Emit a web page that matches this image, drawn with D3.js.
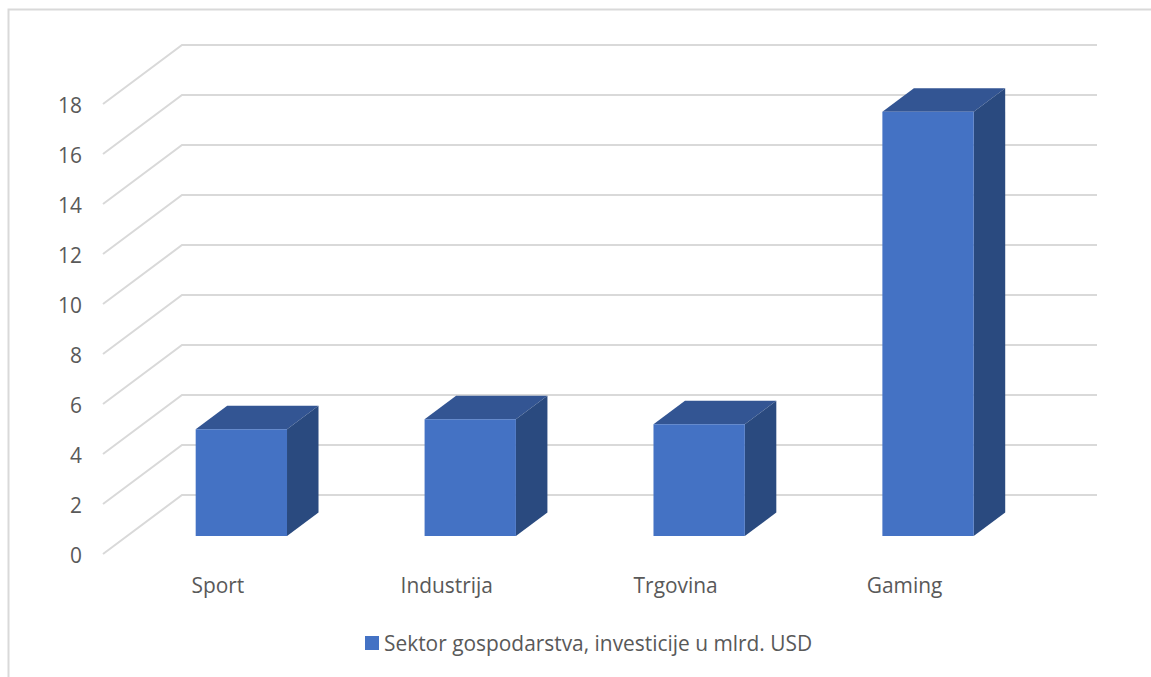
<!DOCTYPE html>
<html>
<head>
<meta charset="utf-8">
<script src="https://cdn.jsdelivr.net/npm/d3@7"></script>
<style>
  html, body { margin: 0; padding: 0; background: #fff; overflow: hidden; }
  text { font-family: "Open Sans", "Noto Sans", sans-serif; fill: #595959; }
</style>
</head>
<body>
<div id="chart"></div>
<script>
const categories = ['Sport', 'Industrija', 'Trgovina', 'Gaming']
const investments = [4.27, 4.67, 4.47, 16.97]
const yTicks = [0, 2, 4, 6, 8, 10, 12, 14, 16, 18]
const seriesName = 'Sektor gospodarstva, investicije u mlrd. USD'

const WIDTH = 1151
const HEIGHT = 677
const FONT_SIZE = '20.9px'
// offsets of the fake 3D box
const WALL = { DX: -79, DY: 59 }
const BAR_FRONT_DY = 41
const BAR_DEPTH = { DX: 31.5, DY: -23.5 }

const svg = d3.select('#chart').append('svg')
    .attr('width', WIDTH)
    .attr('height', HEIGHT)
    .style('display', 'block')

// chart frame, cut by the right and bottom of the picture
svg.append('path')
    .attr('d', `M8.5,${HEIGHT} V9.5 H${WIDTH}`)
    .attr('fill', 'none')
    .attr('stroke', '#d9d9d9')
    .attr('stroke-width', 2)

const y = d3.scaleLinear().domain([0, 18]).range([495, 45])
const x = d3.scaleBand()
    .domain(categories)
    .range([126.9, 1042.5])
    .paddingInner(0.601)
    .paddingOuter(0.3005)

const GRID_LEFT = 182
const GRID_RIGHT = 1097

// grid lines on the back wall + side wall
svg.append('g').selectAll('path')
    .data(yTicks)
    .enter().append('path')
    .attr('d', d => `M${GRID_LEFT + WALL.DX},${y(d) + WALL.DY} L${GRID_LEFT},${y(d)} H${GRID_RIGHT}`)
    .attr('fill', 'none')
    .attr('stroke', '#d9d9d9')
    .attr('stroke-width', 2)

// Y axis
const yAxis = svg.append('g')
    .attr('transform', `translate(${GRID_LEFT + WALL.DX - 12}, ${WALL.DY + 2})`)
    .call(d3.axisLeft(y).tickValues(yTicks).tickSize(0).tickPadding(9))
yAxis.select('.domain').remove()
yAxis.selectAll('text')
    .attr('font-size', FONT_SIZE)
    .style('font-family', '"Open Sans", "Noto Sans", sans-serif')

// X axis
const xAxis = svg.append('g')
    .attr('transform', `translate(-23.5, ${y(0) + BAR_FRONT_DY + 42})`)
    .call(d3.axisBottom(x).tickSize(0).tickPadding(0))
xAxis.select('.domain').remove()
xAxis.selectAll('text')
    .attr('font-size', FONT_SIZE)
    .style('font-family', '"Open Sans", "Noto Sans", sans-serif')

// Bars
const bars = svg.selectAll('.bar')
    .data(categories.map((c, i) => ({ category: c, value: investments[i] })))
    .enter().append('g')
    .attr('class', 'bar')

const barBox = d => {
    const x0 = x(d.category)
    const x1 = x0 + x.bandwidth()
    const base = y(0) + BAR_FRONT_DY
    const top = y(d.value) + BAR_FRONT_DY
    return { x0, x1, base, top }
}

bars.append('path')
    .attr('fill', '#335593')
    .attr('d', d => {
        const b = barBox(d)
        return `M${b.x0},${b.top} l${BAR_DEPTH.DX},${BAR_DEPTH.DY} H${b.x1 + BAR_DEPTH.DX} L${b.x1},${b.top} Z`
    })

bars.append('path')
    .attr('fill', '#2a4a7f')
    .attr('d', d => {
        const b = barBox(d)
        return `M${b.x1},${b.top} l${BAR_DEPTH.DX},${BAR_DEPTH.DY} V${b.base + BAR_DEPTH.DY} L${b.x1},${b.base} Z`
    })

bars.append('rect')
    .attr('fill', '#4472c4')
    .attr('x', d => barBox(d).x0)
    .attr('y', d => barBox(d).top)
    .attr('width', x.bandwidth())
    .attr('height', d => barBox(d).base - barBox(d).top)

// Legend
const legend = svg.append('g').attr('transform', 'translate(365, 636)')
legend.append('rect')
    .attr('width', 14)
    .attr('height', 14)
    .attr('fill', '#4472c4')
legend.append('text')
    .attr('x', 19)
    .attr('y', 15)
    .attr('font-size', FONT_SIZE)
    .text(seriesName)
</script>
</body>
</html>
